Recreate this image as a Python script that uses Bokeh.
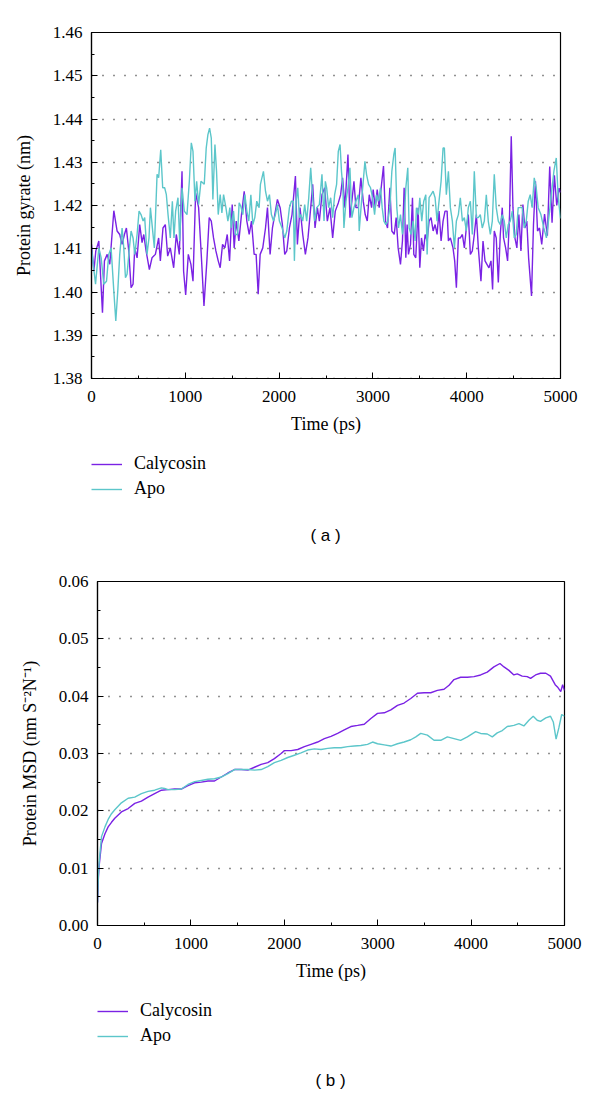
from bokeh.plotting import figure
from bokeh.models import Legend, LegendItem, SingleIntervalTicker, Label, Range1d, PrintfTickFormatter
from bokeh.layouts import column
from bokeh.embed import file_html
from bokeh.resources import INLINE

# ---------------- data: panel (a) protein gyrate ----------------
gyr_cal_t = [0, 25, 46, 78, 117, 138, 167, 195, 238, 273, 301, 326, 351, 372, 397, 422, 443, 461, 486, 514,
             539, 557, 582, 617, 645, 681, 716, 734, 762, 787, 812, 840, 876, 904, 936, 965, 982, 1004, 1032, 1060,
             1082, 1110, 1142, 1170, 1199, 1230, 1255, 1277, 1301, 1326, 1351, 1372, 1397, 1422, 1447, 1472, 1500,
             1521, 1543, 1571, 1599, 1628, 1656, 1681, 1706, 1734, 1755, 1777, 1798, 1826, 1855, 1876, 1904, 1929,
             1954, 1982, 2011, 2035, 2060, 2082, 2110, 2138, 2174, 2195, 2223, 2252, 2280, 2308, 2337, 2358, 2383,
             2408, 2429, 2457, 2486, 2514, 2542, 2571, 2599, 2631,
             2656, 2677, 2702, 2734, 2755, 2776, 2798, 2819, 2844, 2872, 2897, 2918, 2940, 2961, 2986, 3003, 3025,
             3046, 3067, 3092, 3113, 3135, 3156, 3181, 3202, 3227, 3248, 3269, 3294, 3315, 3333, 3351, 3365, 3379,
             3401, 3422, 3436, 3457, 3482, 3500, 3518, 3539, 3557, 3578, 3599, 3620, 3642, 3663, 3684, 3705, 3727,
             3748, 3769, 3791, 3805, 3826, 3854, 3872, 3890, 3911, 3932, 3954, 3975, 3996, 4017, 4039, 4060, 4081,
             4103, 4124, 4152, 4174, 4195, 4216, 4237, 4259, 4276, 4294, 4315, 4337, 4358, 4379, 4393, 4415, 4436,
             4457, 4475, 4493, 4514, 4535, 4556, 4578, 4599, 4620, 4641, 4660, 4691, 4712, 4733, 4755, 4776, 4800,
             4830, 4860, 4885, 4910, 4935, 4960, 4985, 5000]
gyr_cal_v = [1.4110, 1.4048, 1.4095, 1.4118, 1.3952, 1.4072, 1.4087, 1.4064, 1.4188, 1.4141, 1.4133, 1.4110,
             1.4133, 1.4148, 1.4095, 1.4010, 1.4018, 1.4102, 1.4079, 1.4156, 1.4114, 1.4133, 1.4095, 1.4052,
             1.4079, 1.4087, 1.4125, 1.4072, 1.4148, 1.4156, 1.4083, 1.4102, 1.4056, 1.4133, 1.4087, 1.4279,
             1.4048, 1.3993, 1.4087, 1.4064, 1.4025, 1.4229, 1.4195, 1.4087, 1.3968, 1.4072, 1.4172, 1.4164,
             1.4125, 1.4095, 1.4072, 1.4056, 1.4110, 1.4102, 1.4133, 1.4072, 1.4202, 1.4102, 1.4164, 1.4118,
             1.4179, 1.4233, 1.4164, 1.4133, 1.4164, 1.4087, 1.4087, 1.3995, 1.4087, 1.4102, 1.4148, 1.4195,
             1.4087, 1.4148, 1.4179, 1.4214, 1.4195, 1.4156, 1.4087, 1.4095, 1.4148, 1.4179, 1.4268, 1.4110,
             1.4195, 1.4133, 1.4087, 1.4125, 1.4195, 1.4249, 1.4148, 1.4195, 1.4164, 1.4225, 1.4241, 1.4164,
             1.4195, 1.4125, 1.4187, 1.4206,
             1.4225, 1.4264, 1.4195, 1.4318, 1.4172, 1.4210, 1.4256, 1.4195, 1.4195, 1.4264, 1.4210, 1.4179,
             1.4164, 1.4225, 1.4195, 1.4237, 1.4195, 1.4237, 1.4195, 1.4249, 1.4291, 1.4164, 1.4148, 1.4241,
             1.4141, 1.4133, 1.4172, 1.4102, 1.4064, 1.4118, 1.4241, 1.4079, 1.4156, 1.4087, 1.4110, 1.4218,
             1.4087, 1.4079, 1.4195, 1.4056, 1.4125, 1.4095, 1.4133, 1.4118, 1.4164, 1.4172, 1.4141, 1.4156,
             1.4133, 1.4187, 1.4118, 1.4164, 1.4187, 1.4187, 1.4118, 1.4125, 1.4102, 1.4072, 1.4010, 1.4125,
             1.4125, 1.4133, 1.4102, 1.4148, 1.4179, 1.4087, 1.4095, 1.4133, 1.4179, 1.4102, 1.4025, 1.4118,
             1.4072, 1.4064, 1.4056, 1.4072, 1.4006, 1.4141, 1.4125, 1.4022, 1.4133, 1.4195, 1.4125, 1.4102,
             1.4072, 1.4179, 1.4360, 1.4195, 1.4125, 1.4102, 1.4179, 1.4095, 1.4202, 1.4148, 1.4164, 1.4079,
             1.3991, 1.4156, 1.4256, 1.4141, 1.4148, 1.4110, 1.4180, 1.4130, 1.4290, 1.4160, 1.4270, 1.4200,
             1.4240, 1.4230]

gyr_apo_t = [0, 43, 78, 103, 131, 160, 184, 209, 238, 259, 280, 301, 326, 344, 362, 379, 401, 422, 443, 461,
             486, 507, 528, 550, 567, 592, 613, 628, 642, 670, 699, 716, 738, 759, 780, 798, 816, 840, 862, 879,
             897, 922, 940, 965, 989, 1018, 1043, 1064, 1082, 1103, 1121, 1142, 1167, 1188, 1202, 1223, 1241,
             1259, 1277, 1294, 1316, 1333, 1351, 1372, 1390, 1408, 1433, 1454, 1475, 1489, 1514, 1535, 1557,
             1574, 1592, 1613, 1635, 1656, 1677, 1699, 1720, 1741, 1762, 1787, 1801, 1833, 1855, 1876, 1897,
             1918, 1940, 1961, 1982, 2003, 2032, 2060, 2082, 2110, 2131, 2152, 2163, 2181, 2199, 2216, 2230,
             2252, 2273, 2294, 2316, 2337, 2358, 2379, 2401, 2429, 2457, 2479, 2493, 2507, 2528, 2550, 2571,
             2592, 2613, 2631, 2650, 2665, 2680, 2691, 2713, 2734, 2755, 2776, 2798, 2819, 2844, 2854, 2879,
             2897, 2915, 2932, 2954, 2975, 2996, 3018, 3039, 3060, 3081, 3099, 3117, 3138, 3159, 3181, 3202,
             3223, 3237, 3255, 3273, 3294, 3315, 3333, 3351, 3372, 3386, 3408, 3429, 3450, 3464, 3486, 3500,
             3521, 3542, 3564, 3578, 3599, 3620, 3642, 3663, 3684, 3705, 3727, 3748, 3762, 3783, 3805, 3826,
             3847, 3869, 3890, 3911, 3932, 3954, 3975, 3996, 4017, 4039, 4060, 4081, 4103, 4124, 4145, 4166,
             4188, 4209, 4230, 4252, 4273, 4294, 4315, 4337, 4358, 4379, 4400, 4422, 4443, 4464, 4486, 4507,
             4528, 4549, 4571, 4592, 4613, 4635, 4656, 4677, 4698, 4720, 4741, 4762, 4790, 4820, 4850, 4880,
             4905, 4930, 4955, 4975, 5000]
gyr_apo_v = [1.4100, 1.4018, 1.4102, 1.4079, 1.4018, 1.4025, 1.4087, 1.4102, 1.4002, 1.3933, 1.4002, 1.4087,
             1.4148, 1.4102, 1.4033, 1.4041, 1.4095, 1.4141, 1.4125, 1.4087, 1.4133, 1.4187, 1.4179, 1.4164,
             1.4172, 1.4087, 1.4125, 1.4195, 1.4164, 1.4102, 1.4272, 1.4264, 1.4329, 1.4241, 1.4241, 1.4225,
             1.4179, 1.4125, 1.4210, 1.4125, 1.4187, 1.4218, 1.4118, 1.4241, 1.4187, 1.4179, 1.4256, 1.4345,
             1.4325, 1.4210, 1.4256, 1.4202, 1.4256, 1.4252, 1.4249, 1.4333, 1.4364, 1.4379, 1.4356, 1.4214,
             1.4341, 1.4279, 1.4179, 1.4225, 1.4183, 1.4225, 1.4195, 1.4164, 1.4195, 1.4148, 1.4187, 1.4133,
             1.4133, 1.4206, 1.4198, 1.4179, 1.4225, 1.4187, 1.4164, 1.4225, 1.4156, 1.4172, 1.4210, 1.4195,
             1.4249, 1.4279, 1.4233, 1.4210, 1.4225, 1.4179, 1.4164, 1.4179, 1.4202, 1.4164, 1.4148, 1.4125,
             1.4141, 1.4195, 1.4210, 1.4210, 1.4072, 1.4210, 1.4241, 1.4172, 1.4179, 1.4164, 1.4202, 1.4164,
             1.4218, 1.4287, 1.4218, 1.4164, 1.4195, 1.4202, 1.4272, 1.4164, 1.4256, 1.4241, 1.4195, 1.4218,
             1.4172, 1.4225, 1.4249, 1.4325, 1.4341, 1.4279, 1.4241, 1.4148, 1.4210, 1.4241, 1.4287, 1.4172,
             1.4195, 1.4210, 1.4225, 1.4141, 1.4210, 1.4256, 1.4302, 1.4272, 1.4249, 1.4241, 1.4218, 1.4179,
             1.4225, 1.4210, 1.4241, 1.4195, 1.4164, 1.4156, 1.4164, 1.4195, 1.4279, 1.4318, 1.4333, 1.4195,
             1.4148, 1.4179, 1.4133, 1.4164, 1.4241, 1.4287, 1.4148, 1.4133, 1.4164, 1.4118, 1.4195, 1.4179,
             1.4218, 1.4164, 1.4210, 1.4225, 1.4087, 1.4218, 1.4225, 1.4233, 1.4218, 1.4164, 1.4210, 1.4256,
             1.4333, 1.4333, 1.4225, 1.4279, 1.4195, 1.4164, 1.4102, 1.4164, 1.4179, 1.4218, 1.4164, 1.4172,
             1.4141, 1.4195, 1.4210, 1.4133, 1.4279, 1.4172, 1.4172, 1.4179, 1.4148, 1.4164, 1.4225, 1.4164,
             1.4133, 1.4164, 1.4272, 1.4195, 1.4164, 1.4156, 1.4179, 1.4164, 1.4125, 1.4156, 1.4164, 1.4187,
             1.4125, 1.4133, 1.4195, 1.4195, 1.4195, 1.4148, 1.4164, 1.4210, 1.4225, 1.4195, 1.4264, 1.4241,
             1.4195, 1.4180, 1.4150, 1.4125, 1.4180, 1.4230, 1.4280, 1.4310, 1.4220, 1.4170]

# ---------------- data: panel (b) protein MSD ----------------
msd_cal_t = [0, 10, 20, 43, 80, 114, 150, 185, 256, 328, 399, 470, 541, 612, 684, 755, 826, 897, 969, 1040,
             1111, 1182, 1253, 1325, 1396, 1467, 1538, 1610, 1681, 1752, 1823, 1894, 1966, 2001, 2073, 2144,
             2215, 2286, 2357, 2429, 2500, 2571, 2642, 2713, 2785, 2856, 2927, 2998, 3070, 3141, 3212, 3283,
             3354, 3425, 3497, 3568, 3639, 3710, 3764, 3817, 3888, 3960, 4031, 4102, 4173, 4244, 4309, 4352,
             4405, 4458, 4494, 4547, 4601, 4637, 4690, 4743, 4800, 4850, 4900, 4930, 4960, 4980, 5000]
msd_cal_v = [0.0040, 0.0085, 0.0108, 0.0143, 0.0160, 0.0172, 0.0180, 0.0187, 0.0198, 0.0204, 0.0213, 0.0217,
             0.0224, 0.0230, 0.0236, 0.0237, 0.0238, 0.0238, 0.0244, 0.0249, 0.0250, 0.0252, 0.0252, 0.0259,
             0.0266, 0.0272, 0.0272, 0.0271, 0.0276, 0.0281, 0.0284, 0.0291, 0.0300, 0.0305, 0.0305, 0.0307,
             0.0312, 0.0316, 0.0320, 0.0326, 0.0330, 0.0335, 0.0341, 0.0347, 0.0349, 0.0351, 0.0361, 0.0370,
             0.0371, 0.0376, 0.0384, 0.0388, 0.0396, 0.0405, 0.0406, 0.0406, 0.0410, 0.0412, 0.0419, 0.0429,
             0.0433, 0.0433, 0.0434, 0.0437, 0.0442, 0.0451, 0.0457, 0.0451, 0.0445, 0.0437, 0.0439, 0.0435,
             0.0434, 0.0431, 0.0437, 0.0440, 0.0440, 0.0435, 0.0420, 0.0415, 0.0408, 0.0420, 0.0410]

msd_apo_t = [0, 10, 20, 43, 80, 114, 150, 185, 256, 328, 399, 470, 541, 612, 684, 719, 755, 826, 897, 969,
             1040, 1111, 1182, 1253, 1325, 1396, 1467, 1538, 1610, 1681, 1752, 1823, 1894, 1966, 2037, 2108,
             2179, 2250, 2322, 2393, 2464, 2535, 2607, 2678, 2749, 2820, 2891, 2945, 2998, 3070, 3141, 3212,
             3283, 3354, 3408, 3461, 3532, 3603, 3675, 3746, 3817, 3888, 3960, 4049, 4102, 4173, 4227, 4280,
             4334, 4387, 4458, 4512, 4565, 4619, 4665, 4708, 4743, 4800, 4850, 4880, 4910, 4940, 4970, 5000]
msd_apo_v = [0.0040, 0.0090, 0.0115, 0.0155, 0.0172, 0.0185, 0.0195, 0.0202, 0.0214, 0.0222, 0.0224, 0.0230,
             0.0234, 0.0236, 0.0240, 0.0239, 0.0237, 0.0237, 0.0238, 0.0246, 0.0251, 0.0253, 0.0255, 0.0256,
             0.0259, 0.0265, 0.0272, 0.0272, 0.0272, 0.0271, 0.0272, 0.0277, 0.0284, 0.0288, 0.0293, 0.0297,
             0.0301, 0.0306, 0.0308, 0.0307, 0.0309, 0.0310, 0.0310, 0.0312, 0.0313, 0.0314, 0.0316, 0.0320,
             0.0317, 0.0315, 0.0313, 0.0317, 0.0320, 0.0324, 0.0329, 0.0335, 0.0332, 0.0323, 0.0323, 0.0329,
             0.0326, 0.0323, 0.0329, 0.0338, 0.0335, 0.0334, 0.0329, 0.0336, 0.0340, 0.0347, 0.0349, 0.0352,
             0.0348, 0.0358, 0.0365, 0.0358, 0.0356, 0.0362, 0.0365, 0.0355, 0.0325, 0.0345, 0.0368, 0.0365]

series_names = ["Calycosin", "Apo"]
captions = ["( a )", "( b )"]
x_tick_interval = 1000
y_tick_interval = 0.01

SERIF = "Liberation Serif"
PURPLE = "#7a22e4"
CYAN = "#5cc6ca"
TOTAL_W = 592
NAN = float("nan")


def make_panel(y0, y1, ylabel, cal_t, cal_v, apo_t, apo_v, left, fw, fh, top, bottom):
    p = figure(frame_width=fw, frame_height=fh, min_border_left=left,
               min_border_right=TOTAL_W - left - fw,
               min_border_top=top, min_border_bottom=bottom,
               x_range=Range1d(0, 5000), y_range=Range1d(y0, y1),
               output_backend="svg", toolbar_location=None)
    p.frame_align = False
    p.outline_line_color = "black"
    p.outline_line_width = 1.2
    p.background_fill_color = "white"
    p.border_fill_color = "white"

    p.line(cal_t, cal_v, line_color=PURPLE, line_width=1.4)
    p.line(apo_t, apo_v, line_color=CYAN, line_width=1.4)

    p.xaxis.ticker = SingleIntervalTicker(interval=x_tick_interval, num_minor_ticks=2)
    p.yaxis.ticker = SingleIntervalTicker(interval=y_tick_interval, num_minor_ticks=2)
    p.yaxis.formatter = PrintfTickFormatter(format="%.2f")
    for ax in (p.xaxis[0], p.yaxis[0]):
        ax.axis_line_color = "black"
        ax.axis_line_width = 1.2
        ax.major_tick_in = 6
        ax.major_tick_out = 0
        ax.minor_tick_in = 3
        ax.minor_tick_out = 0
        ax.major_tick_line_color = "black"
        ax.minor_tick_line_color = "black"
        ax.major_label_text_font = SERIF
        ax.major_label_text_font_size = "17px"
        ax.major_label_text_color = "black"
        ax.axis_label_text_font = SERIF
        ax.axis_label_text_font_size = "18px"
        ax.axis_label_text_font_style = "normal"
        ax.axis_label_text_color = "black"
    p.xaxis.axis_label = "Time (ps)"
    p.xaxis.major_label_standoff = 12
    p.xaxis.axis_label_standoff = 9
    p.yaxis.axis_label = ylabel
    p.yaxis.major_label_standoff = 9
    p.yaxis.axis_label_standoff = 16

    p.xgrid.grid_line_color = None
    p.ygrid.grid_line_color = "#222222"
    p.ygrid.grid_line_dash = "1 10"
    p.ygrid.grid_line_width = 1.3
    return p


def make_key(height, legend_x, legend_y, caption, cap_x, cap_y):
    k = figure(width=TOTAL_W, height=height, x_range=Range1d(0, TOTAL_W), y_range=Range1d(0, height),
               x_axis_location=None, y_axis_location=None, min_border=0,
               output_backend="svg", toolbar_location=None)
    k.frame_align = False
    k.outline_line_color = None
    k.grid.grid_line_color = None
    r1 = k.line([NAN], [NAN], line_color=PURPLE, line_width=1.4)
    r2 = k.line([NAN], [NAN], line_color=CYAN, line_width=1.4)
    legend = Legend(items=[LegendItem(label=series_names[0], renderers=[r1]),
                           LegendItem(label=series_names[1], renderers=[r2])],
                    location=(legend_x, legend_y), orientation="vertical", margin=0, padding=0,
                    border_line_color=None, background_fill_alpha=0,
                    glyph_width=31, glyph_height=20, label_height=20, spacing=4,
                    label_standoff=12, label_text_font=SERIF, label_text_font_size="18px",
                    label_text_color="black")
    k.add_layout(legend)
    k.add_layout(Label(x=cap_x, y=cap_y, text=caption, text_align="center", text_baseline="middle",
                       text_font="Liberation Sans", text_font_size="17px", text_color="black"))
    return k


p1 = make_panel(1.38, 1.46, "Protein gyrate (nm)", gyr_cal_t, gyr_cal_v, gyr_apo_t, gyr_apo_v,
                left=91, fw=469, fh=346, top=32, bottom=70)
k1 = make_key(112, 91, 61, captions[0], 325, 25)
p2 = make_panel(0.0, 0.06, "Protein MSD (nm S\u207b\u00b2N\u207b\u00b9)", msd_cal_t, msd_cal_v,
                msd_apo_t, msd_apo_v, left=97, fw=467, fh=344, top=21, bottom=70)
k2 = make_key(97, 97, 46, captions[1], 330, 12)

layout = column(p1, k1, p2, k2, spacing=0)
open("out.html", "w").write(file_html(layout, INLINE))
